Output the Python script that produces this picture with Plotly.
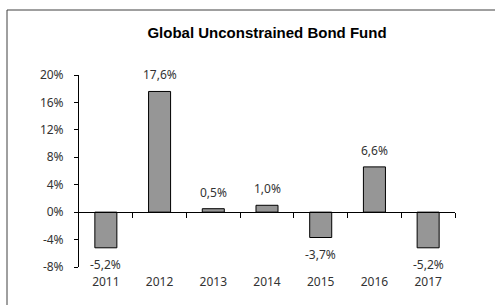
import plotly.graph_objects as go

years = ["2011", "2012", "2013", "2014", "2015", "2016", "2017"]
returns = [-5.2, 17.6, 0.5, 1.0, -3.7, 6.6, -5.2]
y_ticks = [-8, -4, 0, 4, 8, 12, 16, 20]
y_tick_labels = ["-8%", "-4%", "0%", "4%", "8%", "12%", "16%", "20%"]
title = "Global Unconstrained Bond Fund"

y_min, y_max = y_ticks[0], y_ticks[-1]
labels = [f"{v:.1f}%".replace(".", ",") for v in returns]
n = len(years)

font_tick = dict(family="Noto Sans, DejaVu Sans, sans-serif", size=12, color="#333333")

fig = go.Figure()
fig.add_trace(go.Bar(
    x=years, y=returns,
    marker=dict(color="#969696", line=dict(color="#000000", width=1)),
    width=0.41,
    showlegend=False, hoverinfo="skip",
))

annotations = []
for i, (v, lab) in enumerate(zip(returns, labels)):
    annotations.append(dict(
        x=i, y=v, xref="x", yref="y", text=lab, showarrow=False,
        font=font_tick,
        yanchor="bottom" if v >= 0 else "top",
        yshift=6 if v >= 0 else -6,
    ))

fig.update_layout(
    width=495, height=305,
    margin=dict(l=79, r=40, t=75, b=38),
    paper_bgcolor="white", plot_bgcolor="white",
    title=dict(text=f"<b>{title}</b>", x=0.5, xref="paper", xanchor="center",
               y=1 - 33 / 305, yanchor="middle",
               font=dict(family="Liberation Sans, Arial, sans-serif", size=15, color="#000000")),
    xaxis=dict(type="category", range=[-0.5, n - 0.5], showline=False, ticks="",
               showgrid=False, tickfont=font_tick, zeroline=False, ticklabelstandoff=6),
    xaxis2=dict(overlaying="x", anchor="free",
                position=(0 - y_min) / (y_max - y_min),
                range=[-0.5, n - 0.5], tickvals=[i + 0.5 for i in range(n)],
                showticklabels=False, ticks="outside", ticklen=5, tickcolor="#000000",
                showline=True, linecolor="#000000", linewidth=1, showgrid=False,
                zeroline=False, side="bottom"),
    yaxis=dict(range=[y_min, y_max], tickvals=y_ticks, ticktext=y_tick_labels,
               showline=True, linecolor="#000000", linewidth=1,
               ticks="outside", ticklen=4, tickcolor="#000000",
               showgrid=False, zeroline=False, tickfont=font_tick,
               ticklabelstandoff=8),
    annotations=annotations,
    shapes=[dict(type="rect", xref="paper", yref="paper",
                 x0=(7 - 79) / 376, x1=1.3, y0=-0.4, y1=(267 - 10) / 192,
                 line=dict(color="#404040", width=1), fillcolor="rgba(0,0,0,0)",
                 layer="below")],
)
# invisible trace so xaxis2 is rendered
fig.add_trace(go.Scatter(x=[0], y=[0], xaxis="x2", mode="markers",
                         marker=dict(opacity=0), showlegend=False, hoverinfo="skip"))

fig.write_html("out.html", config={"displayModeBar": False},
               post_script="document.body.style.margin='0';")
